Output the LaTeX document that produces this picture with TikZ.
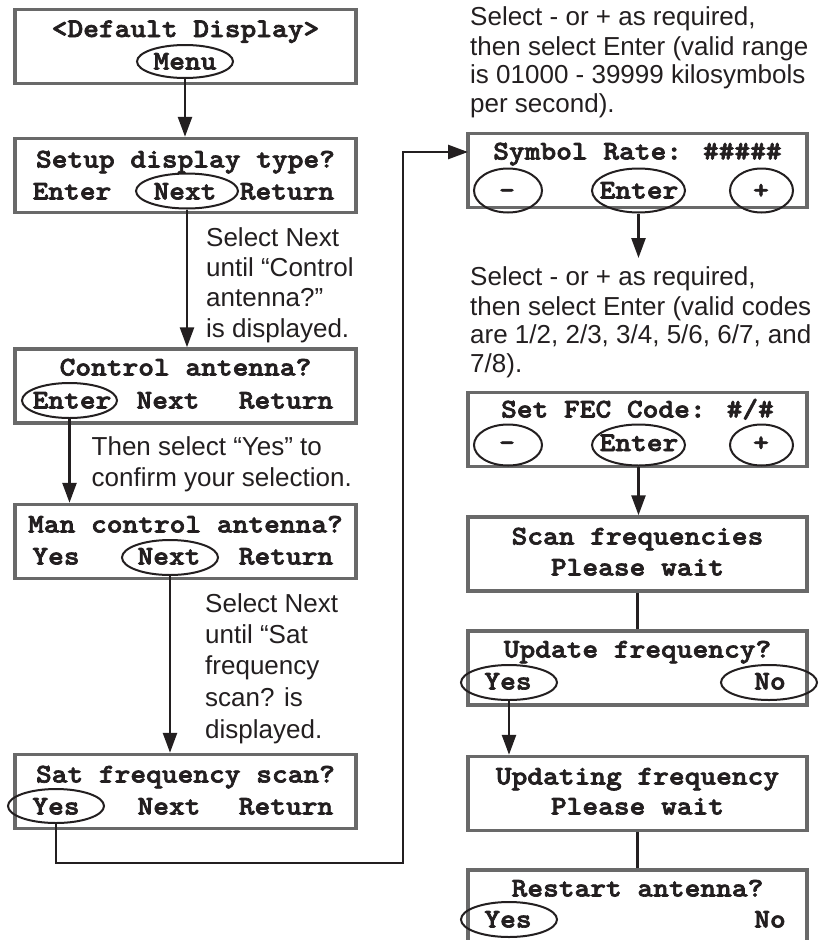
\documentclass[tikz,border=0pt]{standalone}
\usepackage{fontspec}
\setmainfont{Liberation Sans}
\newfontfamily\lcdfont{lmmonolt10-bold.otf}[FakeStretch=1.11,FakeBold=2.5]
\usetikzlibrary{arrows.meta,shapes.geometric}
\definecolor{boxgray}{RGB}{105,105,105}
\definecolor{ink}{RGB}{35,31,32}
\begin{document}
\begin{tikzpicture}[x=1pt,y=-1pt,
  lcd/.style={draw=boxgray, line width=3.5pt, fill=white, minimum width=341pt, minimum height=74pt, inner sep=0pt},
  rlcd/.style={lcd, minimum width=339pt},
  mono/.style={font=\fontsize{27}{30}\lcdfont, inner sep=0pt, text=ink},
  word/.style={mono, text height=15pt, text depth=0pt},
  btn/.style={ellipse, draw=ink, line width=2pt, inner sep=0pt},
  note/.style={font=\fontsize{26}{30}\selectfont, inner sep=0pt, anchor=base west, text=ink},
  conn/.style={draw=ink, line width=2.6pt},
  arr/.style={conn, -{Triangle[length=20pt,width=14pt]}},
]
\useasboundingbox (0,0) rectangle (823,940);
\fill[white] (0,0) rectangle (823,940);
\clip (0,0) rectangle (823,940);

% ---------- left column ----------
\node[lcd] (b1) at (185.5,46.5) {};
\node[mono, anchor=base] (b1t) at (185.5,37) {<Default Display>};
\node[btn, minimum width=96pt, minimum height=33pt] (menu) at (185,61.5) {};
\node[word] (menut) at (185,62) {Menu};

\node[lcd] (b2) at (185.5,175.5) {};
\node[mono, anchor=base] (b2t) at (185.5,167.5) {Setup display type?};
\node[btn, minimum width=102pt, minimum height=35pt] (next2) at (187,191) {};
\node[word] (b2w1) at (72,192) {Enter};
\node[word] (b2w2) at (185,192) {Next};
\node[word] (b2w3) at (287,192) {Return};

\node[lcd] (b3) at (185.5,386) {};
\node[mono, anchor=base] (b3t) at (185.5,375.5) {Control antenna?};
\node[btn, minimum width=95pt, minimum height=35pt] (enter3) at (69.5,400.5) {};
\node[word] (b3w1) at (72,401) {Enter};
\node[word] (b3w2) at (168,401) {Next};
\node[word] (b3w3) at (286,401) {Return};

\node[lcd] (b4) at (185.5,541.5) {};
\node[mono, anchor=base] (b4t) at (185.5,532.5) {Man control antenna?};
\node[btn, minimum width=96pt, minimum height=35pt] (next4) at (170,557.5) {};
\node[word] (b4w1) at (56,557) {Yes};
\node[word] (b4w2) at (169,557) {Next};
\node[word] (b4w3) at (286,557) {Return};

\node[lcd] (b5) at (185.5,791.5) {};
\node[mono, anchor=base] (b5t) at (185.5,782.5) {Sat frequency scan?};
\node[btn, minimum width=96pt, minimum height=34pt] (yes5) at (56,806) {};
\node[word] (b5w1) at (56,807) {Yes};
\node[word] (b5w2) at (169,807) {Next};
\node[word] (b5w3) at (286,807) {Return};

% left notes
\node[note] (na1) at (206,246) {Select Next};
\node[note] (na2) at (206,276.5) {until “Control};
\node[note] (na3) at (206,306.5) {antenna?”};
\node[note] (na4) at (206,337) {is displayed.};

\node[note] (nb1) at (91.5,455) {Then select “Yes” to};
\node[note] (nb2) at (91.5,486.5) {confirm your selection.};

\node[note] (nc1) at (205,612.3) {Select Next};
\node[note] (nc2) at (205,643.3) {until “Sat};
\node[note] (nc3) at (205,674.8) {frequency};
\node[note] (nc4) at (205,706.5) {scan? is};
\node[note] (nc5) at (205,738.5) {displayed.};

% ---------- right column ----------
\node[rlcd] (b6) at (637.5,170.5) {};
\node[mono, anchor=base] (b6t) at (637.5,159.5) {Symbol Rate: \#\#\#\#\#};
\node[btn, minimum width=68pt, minimum height=44pt] (minus6) at (508,190.5) {};
\node[btn, minimum width=93pt, minimum height=44pt] (enter6) at (638.5,190.5) {};
\node[btn, minimum width=63pt, minimum height=44pt] (plus6) at (761.5,190.5) {};
\node[word] (b6w1) at (507,191) {-};
\node[word] (b6w2) at (639,191) {Enter};
\node[word] (b6w3) at (761,191) {+};

\node[rlcd] (b7) at (637.5,429.5) {};
\node[mono, anchor=base] (b7t) at (637.5,417.5) {Set FEC Code: \#/\#};
\node[btn, minimum width=68pt, minimum height=41pt] (minus7) at (508,445) {};
\node[btn, minimum width=93pt, minimum height=41pt] (enter7) at (638.5,445) {};
\node[btn, minimum width=63pt, minimum height=41pt] (plus7) at (761.5,445) {};
\node[word] (b7w1) at (507,443.5) {-};
\node[word] (b7w2) at (639,443.5) {Enter};
\node[word] (b7w3) at (761,443.5) {+};

\node[rlcd] (b8) at (637.5,554) {};
\node[mono, anchor=base] (b8t1) at (637.5,544.5) {Scan frequencies};
\node[mono, anchor=base] (b8t2) at (637.5,575.5) {Please wait};

\node[rlcd] (b9) at (637.5,668) {};
\node[mono, anchor=base] (b9t) at (637.5,657.5) {Update frequency?};
\node[btn, minimum width=96pt, minimum height=35pt] (yes9) at (509,682.5) {};
\node[btn, minimum width=96pt, minimum height=35pt] (no9) at (769,682.5) {};
\node[word] (b9w1) at (508,682) {Yes};
\node[word] (b9w2) at (770,682) {No};

\node[rlcd] (b10) at (637.5,793.5) {};
\node[mono, anchor=base] (b10t1) at (637.5,784.5) {Updating frequency};
\node[mono, anchor=base] (b10t2) at (637.5,814.5) {Please wait};

\node[rlcd] (b11) at (637.5,907) {};
\node[mono, anchor=base] (b11t) at (637.5,896.5) {Restart antenna?};
\node[btn, minimum width=96pt, minimum height=35pt] (yes11) at (509,919.5) {};
\node[word] (b11w1) at (508,920) {Yes};
\node[word] (b11w2) at (770,920) {No};

% right notes
\node[note] (nd1) at (470,25.7) {Select - or + as required,};
\node[note] (nd2) at (470,55) {then select Enter (valid range};
\node[note] (nd3) at (470,83.8) {is 01000 - 39999 kilosymbols};
\node[note] (nd4) at (470,112.5) {per second).};

\node[note] (ne1) at (470,285.7) {Select - or + as required,};
\node[note] (ne2) at (470,315) {then select Enter (valid codes};
\node[note] (ne3) at (470,343.6) {are 1/2, 2/3, 3/4, 5/6, 6/7, and};
\node[note] (ne4) at (470,372.3) {7/8).};

% ---------- connectors ----------
\draw[arr] (menu.south) -- (menu.south |- b2.north);
\draw[arr] (next2.south) -- (next2.south |- b3.north);
\draw[arr] (enter3.south) -- (enter3.south |- b4.north);
\draw[arr] (next4.south) -- (next4.south |- b5.north);
\coordinate (loopR) at (403,863);
\coordinate (srIn) at (468,152);
\draw[arr] (yes5.south) |- (loopR) |- (srIn);
\coordinate (fecTip) at (638.5,258);
\draw[arr] (enter6.south) -- (fecTip);
\draw[arr] (enter7.south) -- (enter7.south |- b8.north);
\draw[conn] (b8.south) -- (b9.north);
\draw[arr] (yes9.south) -- (yes9.south |- b10.north);
\draw[conn] (b10.south) -- (b11.north);
\end{tikzpicture}
\end{document}
